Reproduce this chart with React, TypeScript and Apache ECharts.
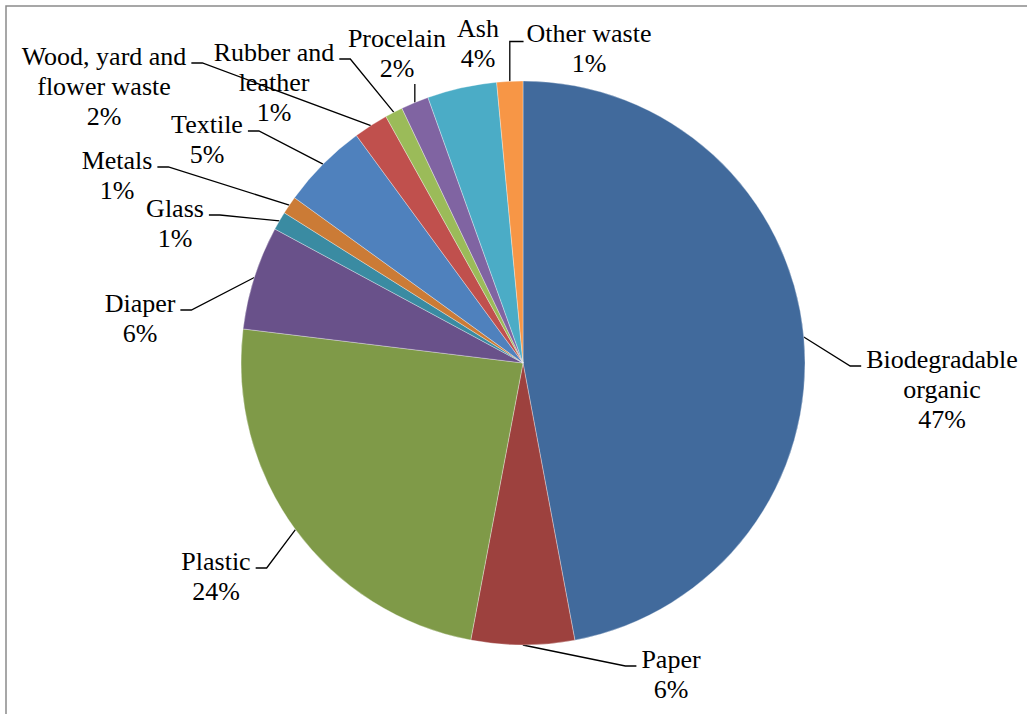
import React, { useEffect, useRef } from "react";
import * as echarts from "echarts";

// Composition of municipal solid waste (share of total, %)
const categories = [
  "Biodegradable\norganic",
  "Paper",
  "Plastic",
  "Diaper",
  "Glass",
  "Metals",
  "Textile",
  "Wood, yard and\nflower waste",
  "Rubber and\nleather",
  "Procelain",
  "Ash",
  "Other waste",
];

const shares = [47.05, 5.91, 23.96, 5.95, 1.06, 1.03, 4.97, 1.98, 1.02, 1.59, 3.98, 1.49];

const sliceColors = [
  "#416a9c",
  "#9d413e",
  "#7f9a48",
  "#69518a",
  "#3a8ba2",
  "#cb7b36",
  "#4f81bd",
  "#c0504d",
  "#9bbb59",
  "#8064a2",
  "#4bacc6",
  "#f79646",
];

// Where each label block sits (centre) and how its leader line is routed
type Leader = "left" | "right" | "below" | "upLeft" | "none";
const labelSpots: { x: number; y: number; leader: Leader }[] = [
  { x: 942, y: 389, leader: "right" },
  { x: 671, y: 674, leader: "right" },
  { x: 216, y: 576, leader: "left" },
  { x: 140, y: 318, leader: "left" },
  { x: 175, y: 223, leader: "left" },
  { x: 117, y: 175, leader: "left" },
  { x: 207, y: 139, leader: "left" },
  { x: 104, y: 86, leader: "left" },
  { x: 274, y: 82, leader: "left" },
  { x: 397, y: 53, leader: "below" },
  { x: 478, y: 43, leader: "none" },
  { x: 589, y: 48, leader: "upLeft" },
];

const LINE_H = 30;
const SERIF = "Liberation Serif, Times New Roman, DejaVu Serif, serif";

export default function App() {
  const ref = useRef<HTMLDivElement>(null);

  useEffect(() => {
    if (!ref.current) return;
    const chart = echarts.init(ref.current, null, { renderer: "svg" });

    const labelStyle = {
      color: "#000",
      fontFamily: SERIF,
      fontSize: 26,
      lineHeight: LINE_H,
    };

    const data = categories.map((name, i) => ({
      name,
      value: shares[i],
      itemStyle: { color: sliceColors[i] },
      label: { ...labelStyle },
      labelLine: { show: labelSpots[i].leader !== "none" },
    }));

    chart.setOption({
      animation: false,
      backgroundColor: "#ffffff",
      textStyle: { fontFamily: SERIF },
      graphic: [
        {
          type: "rect",
          silent: true,
          shape: { x: 6, y: 6, width: 1100, height: 800 },
          style: { fill: "none", stroke: "#8a8a8a", lineWidth: 1.5 },
        },
      ],
      series: [
        {
          type: "pie",
          center: [523, 363],
          radius: 282,
          startAngle: 90,
          clockwise: true,
          avoidLabelOverlap: false,
          emphasis: { disabled: true },
          data,
          itemStyle: { borderColor: "rgba(255,255,255,0.55)", borderWidth: 0.6 },
          label: {
            show: true,
            position: "outside",
            ...labelStyle,
            overflow: "none",
            formatter: (p: any) => `${p.name}\n${Math.round(p.percent)}%`,
          },
          labelLine: {
            show: true,
            smooth: false,
            lineStyle: { color: "#000", width: 1.3 },
          },
          labelLayout: (params: any) => {
            const spot = labelSpots[params.dataIndex];
            const w = params.labelRect.width;
            const h = params.labelRect.height;
            const top = spot.y - h / 2;
            const out: any = { x: spot.x, y: spot.y, align: "center", verticalAlign: "middle" };
            const pts = params.labelLinePoints;
            if (!pts || !pts.length || spot.leader === "none") return out;
            const p0 = pts[0];
            if (spot.leader === "left" || spot.leader === "right") {
              const ly = top + LINE_H / 2 + 7;
              const endX = spot.leader === "left" ? spot.x + w / 2 + 5 : spot.x - w / 2 - 5;
              const elbowX = spot.leader === "left" ? endX + 11 : endX - 11;
              out.labelLinePoints = [p0, [elbowX, ly], [endX, ly]];
            } else if (spot.leader === "below") {
              const end = [p0[0], spot.y + h / 2 + 1];
              out.labelLinePoints = [p0, end, end];
            } else if (spot.leader === "upLeft") {
              const ly = top + LINE_H / 2 + 8.5;
              out.labelLinePoints = [p0, [p0[0], ly], [spot.x - w / 2 - 3, ly]];
            }
            return out;
          },
        },
      ],
    });

    return () => chart.dispose();
  }, []);

  return (
    <div
      ref={ref}
      style={{ position: "fixed", left: 0, top: 0, width: "100vw", height: "100vh" }}
    />
  );
}
